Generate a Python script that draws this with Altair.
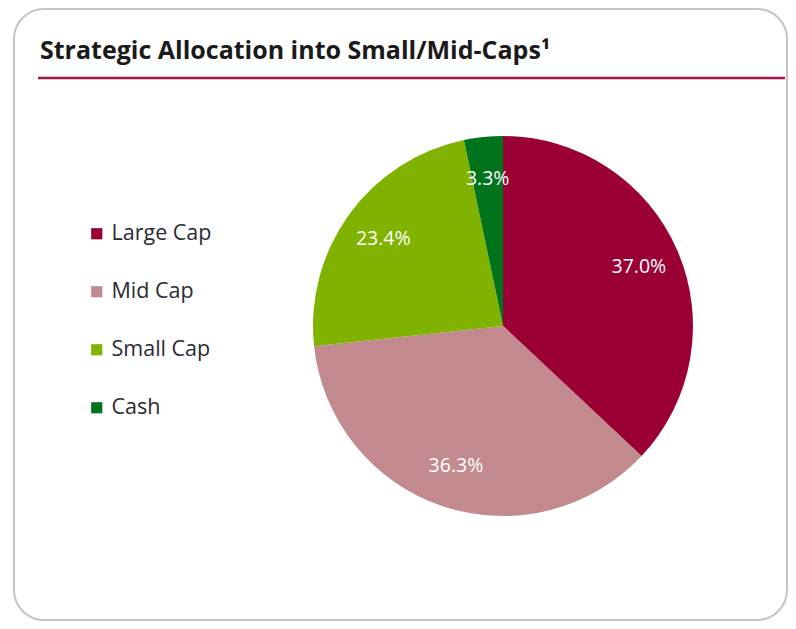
import altair as alt
import pandas as pd

categories = ["Large Cap", "Mid Cap", "Small Cap", "Cash"]
values = [37.0, 36.3, 23.4, 3.3]
labels = ["37.0%", "36.3%", "23.4%", "3.3%"]
colors = ["#9A0034", "#C28A8E", "#7FB300", "#00731D"]
title_text = "Strategic Allocation into Small/Mid-Caps¹"

df = pd.DataFrame({
    "Category": categories,
    "Value": values,
    "Label": labels,
    "idx": list(range(len(categories))),
})
one = pd.DataFrame({"a": [0]})

W, H = 780, 613
CX, CY, R = 495, 318, 190

border = alt.Chart(one).mark_rect(
    fill="white", stroke="#C4C4C4", strokeWidth=2, cornerRadius=30
).encode(x=alt.value(6), x2=alt.value(779), y=alt.value(1), y2=alt.value(612))

title = alt.Chart(one).mark_text(
    text=title_text, align="left", baseline="alphabetic",
    font="Open Sans", fontSize=25, fontWeight="bold", color="#1A1A1A"
).encode(x=alt.value(32), y=alt.value(51))

rule = alt.Chart(one).mark_rule(color="#A3184A", strokeWidth=2.5).encode(
    x=alt.value(30), x2=alt.value(777), y=alt.value(70)
)

pie = alt.Chart(df).mark_arc(radius=R).encode(
    theta=alt.Theta("Value:Q", stack=True),
    order=alt.Order("idx:Q"),
    color=alt.Color(
        "Category:N",
        scale=alt.Scale(domain=categories, range=colors),
        sort=categories,
        legend=alt.Legend(
            title=None, orient="none", legendX=78, legendY=215,
            symbolType="square", symbolSize=125, symbolStrokeWidth=0,
            labelFont="Open Sans", labelFontSize=21.5, labelColor="#2A2A35",
            rowPadding=35, labelOffset=4,
        ),
    ),
    x=alt.value(CX), y=alt.value(CY),
)

text = alt.Chart(df).mark_text(
    radius=148, font="Open Sans", fontSize=19.5, color="white"
).encode(
    theta=alt.Theta("Value:Q", stack=True),
    order=alt.Order("idx:Q"),
    text="Label:N",
    x=alt.value(CX), y=alt.value(CY),
)

chart = alt.layer(border, title, rule, pie, text).properties(
    width=W, height=H, padding=0,
    autosize=alt.AutoSizeParams(type="fit", contains="padding"),
).configure_view(stroke=None)

chart.save("out.html", embed_options={"renderer": "svg", "actions": False})
